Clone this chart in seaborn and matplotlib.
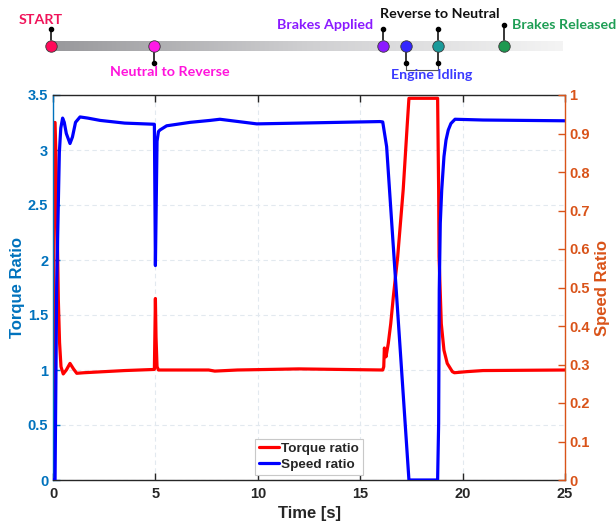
import numpy as np
import pandas as pd
import matplotlib
matplotlib.use("Agg")
import matplotlib.pyplot as plt
from matplotlib.colors import LinearSegmentedColormap
import seaborn as sns

# ---------------- data ----------------
time_torque = [0.0, 0.07, 0.10, 0.15, 0.21, 0.26, 0.32, 0.39, 0.50, 0.65, 0.83, 1.00,
               1.16, 1.50, 2.50, 3.50, 4.95, 5.00, 5.03, 5.08, 5.15, 5.30, 7.00, 7.60,
               7.90, 9.00, 12.00, 16.10, 16.15, 16.18, 16.26, 16.37, 16.49, 16.62, 16.83,
               17.10, 17.30, 17.38, 18.78, 18.83, 18.85, 18.96, 19.09, 19.25, 19.50,
               19.60, 20.20, 21.00, 25.00]
torque_ratio = [0.0, 3.25, 3.25, 2.90, 2.25, 1.64, 1.25, 1.03, 0.964, 1.00, 1.06, 1.01,
                0.97, 0.975, 0.985, 0.995, 1.005, 1.65, 1.30, 1.03, 1.00, 1.00, 1.00, 1.00,
                0.99, 1.00, 1.01, 1.00, 1.03, 1.20, 1.12, 1.24, 1.42, 1.67, 2.03,
                2.64, 3.24, 3.47, 3.47, 2.64, 2.03, 1.42, 1.18, 1.06, 0.985,
                0.975, 0.985, 0.995, 1.00]

time_speed = [0.0, 0.10, 0.18, 0.31, 0.38, 0.47, 0.55, 0.65, 0.83, 0.95, 1.10, 1.32,
              1.70, 2.30, 3.50, 4.95, 5.00, 5.08, 5.15, 5.22, 5.55, 6.70, 7.67, 8.15,
              9.95, 12.00, 15.96, 16.10, 16.29, 17.38, 18.78, 18.83, 18.86, 18.91, 18.98,
              19.09, 19.19, 19.30, 19.43, 19.63, 21.00, 25.00]
speed_ratio = [0.0, 0.0, 0.506, 0.851, 0.914, 0.940, 0.929, 0.900, 0.874, 0.891, 0.929, 0.943,
               0.940, 0.934, 0.927, 0.924, 0.557, 0.880, 0.905, 0.909, 0.920, 0.929, 0.934, 0.937,
               0.925, 0.927, 0.931, 0.930, 0.866, 0.0, 0.0, 0.147, 0.493, 0.667, 0.753,
               0.840, 0.883, 0.909, 0.926, 0.937, 0.935, 0.933]

x_ticks = [0, 5, 10, 15, 20, 25]
x_tick_labels = ["0", "5", "10", "15", "20", "25"]
torque_ticks = [0, 0.5, 1, 1.5, 2, 2.5, 3, 3.5]
torque_tick_labels = ["0", "0.5", "1", "1.5", "2", "2.5", "3", "3.5"]
speed_ticks = [0, 0.1, 0.2, 0.3, 0.4, 0.5, 0.6, 0.7, 0.8, 0.9, 1.0]
speed_tick_labels = ["0", "0.1", "0.2", "0.3", "0.4", "0.5", "0.6", "0.7", "0.8", "0.9", "1"]

event_names = ["START", "Neutral to Reverse", "Brakes Applied", "Engine Idling",
               "Reverse to Neutral", "Brakes Released"]
event_times = [-0.1, 4.95, 16.1, 17.25, 18.8, 22.0]

# ---------------- style ----------------
sns.set_theme(style="white")
plt.rcParams['font.family'] = ['Liberation Sans', 'DejaVu Sans']
plt.rcParams['font.weight'] = 'bold'
plt.rcParams['axes.labelweight'] = 'bold'

W, H = 616, 526
fig = plt.figure(figsize=(W / 100, H / 100), dpi=100)
L, R, T, B = 53, 565, 95, 480
ax = fig.add_axes([L / W, (H - B) / H, (R - L) / W, (B - T) / H])
ax2 = ax.twinx()

C_LEFT = '#0072BD'
C_RIGHT = '#D95319'
C_BLACK = '#262626'

df_t = pd.DataFrame({'Time': time_torque, 'Torque': torque_ratio})
df_s = pd.DataFrame({'Time': time_speed, 'Speed': speed_ratio})
sns.lineplot(data=df_t, x='Time', y='Torque', ax=ax, color='#FF0000', lw=2.3,
             estimator=None, sort=False, legend=False)
sns.lineplot(data=df_s, x='Time', y='Speed', ax=ax2, color='#0000FF', lw=2.3,
             estimator=None, sort=False, legend=False)

ax.set_xlim(0, 25)
ax.set_ylim(0, 3.5)
ax2.set_ylim(0, 1)
ax.set_xticks(x_ticks)
ax.set_xticklabels(x_tick_labels)
ax.set_yticks(torque_ticks)
ax.set_yticklabels(torque_tick_labels)
ax2.set_yticks(speed_ticks)
ax2.set_yticklabels(speed_tick_labels)

ax.grid(True, linestyle=(0, (4, 3)), color='#e2e9ef', lw=0.8)
ax2.grid(False)

ax.tick_params(axis='x', direction='in', top=True, bottom=True, length=5, width=1,
               color=C_BLACK, labelcolor=C_BLACK, labelsize=10.5, pad=5)
ax.tick_params(axis='y', direction='in', left=True, right=False, length=5, width=1,
               color=C_LEFT, labelcolor=C_LEFT, labelsize=10.5, pad=3.5)
ax2.tick_params(axis='y', direction='in', right=True, left=False, length=5, width=1,
                color=C_RIGHT, labelcolor=C_RIGHT, labelsize=10.5, pad=3)
for lab in ax.get_xticklabels() + ax.get_yticklabels() + ax2.get_yticklabels():
    lab.set_fontweight('bold')

for sp in ['top', 'bottom']:
    ax.spines[sp].set_color(C_BLACK)
    ax.spines[sp].set_linewidth(1.0)
    ax2.spines[sp].set_visible(False)
ax.spines['left'].set_color(C_LEFT)
ax.spines['left'].set_linewidth(1.0)
ax.spines['right'].set_visible(False)
ax2.spines['left'].set_visible(False)
ax2.spines['right'].set_color(C_RIGHT)
ax2.spines['right'].set_linewidth(1.0)

ax.set_xlabel('Time [s]', fontsize=12, fontweight='bold', color=C_BLACK)
ax.xaxis.set_label_coords(0.5, (B - 506) / (B - T))
ax.set_ylabel('Torque Ratio', fontsize=12, fontweight='bold', color=C_LEFT)
ax.yaxis.set_label_coords((25 - L) / (R - L), 0.5)
ax2.set_ylabel('Speed Ratio', fontsize=12, fontweight='bold', color=C_RIGHT)
ax2.yaxis.set_label_coords((595 - L) / (R - L), 0.5)

handles = [ax.lines[0], ax2.lines[0]]
leg = ax2.legend(handles, ['Torque ratio', 'Speed ratio'], loc='lower center',
                 bbox_to_anchor=(0.5, 0.013), borderaxespad=0, frameon=True,
                 fancybox=False, framealpha=1, edgecolor='#c8c8c8',
                 prop={'weight': 'bold', 'size': 9.7}, handlelength=1.45,
                 handletextpad=0.15, labelspacing=0.25, borderpad=0.3)
leg.get_frame().set_linewidth(0.8)
for t in leg.get_texts():
    t.set_color(C_BLACK)

# ---------------- timeline ----------------
tl = fig.add_axes([L / W, 1 - 90 / H, (R - L) / W, 90 / H])
tl.set_xlim(0, 25)
tl.set_ylim(90, 0)
tl.axis('off')

px = lambda p: (p - L) / (R - L) * 25.0  # pixel -> time units (layout helper)

grad = LinearSegmentedColormap.from_list('g', ['#98989b', '#cfcfd1', '#f4f4f4'])
tl.imshow(np.linspace(0, 1, 256)[None, :], cmap=grad, aspect='auto',
          extent=[px(50), px(563), 50.7, 41.3], zorder=1, clip_on=False)

dot_colors = ['#FF0A5A', '#FF1AE6', '#8C1AFF', '#3326FF', '#1A9A9A', '#1E9950']
text_colors = ['#F0145A', '#FF14DC', '#8A1AFF', '#3A3AFF', '#111111', '#1E9E55']
stem_dir = ['up', 'down', 'up', 'down', 'up', 'up']
stem_end = [29, 63, 29, 63, 29, 25]
text_pos = [(px(41), 24, 'center'), (px(170), 76, 'center'), (px(372.7), 29, 'right'),
            (px(432), 79, 'center'), (px(440), 18, 'center'), (px(512), 29, 'left')]

for i, (name, t0) in enumerate(zip(event_names, event_times)):
    y0 = 40 if stem_dir[i] == 'up' else 52
    tl.plot([t0, t0], [y0, stem_end[i]], color='black', lw=1.1, zorder=2, clip_on=False)
    tl.scatter([t0], [stem_end[i]], s=9, color='black', zorder=3, clip_on=False)
    tl.scatter([t0], [46], s=68, color=dot_colors[i], edgecolor='#3a3a3a',
               linewidth=0.6, zorder=4, clip_on=False)
    xt, yt, ha = text_pos[i]
    tl.text(xt, yt, name, color=text_colors[i], ha=ha, va='baseline',
            fontsize=10.3, fontweight='bold', family=['Lato', 'DejaVu Sans'], clip_on=False)

# extra downward stem from "Reverse to Neutral" and the Engine Idling bracket
t_rn = event_times[4]
t_ei = event_times[3]
tl.plot([t_rn, t_rn], [52, 63], color='black', lw=1.1, zorder=2, clip_on=False)
tl.scatter([t_rn], [63], s=9, color='black', zorder=3, clip_on=False)
tl.plot([t_ei, t_ei, t_rn, t_rn], [63, 70, 70, 63], color='#555555', lw=0.8,
        zorder=2, clip_on=False)

fig.savefig('out.png', dpi=100)
